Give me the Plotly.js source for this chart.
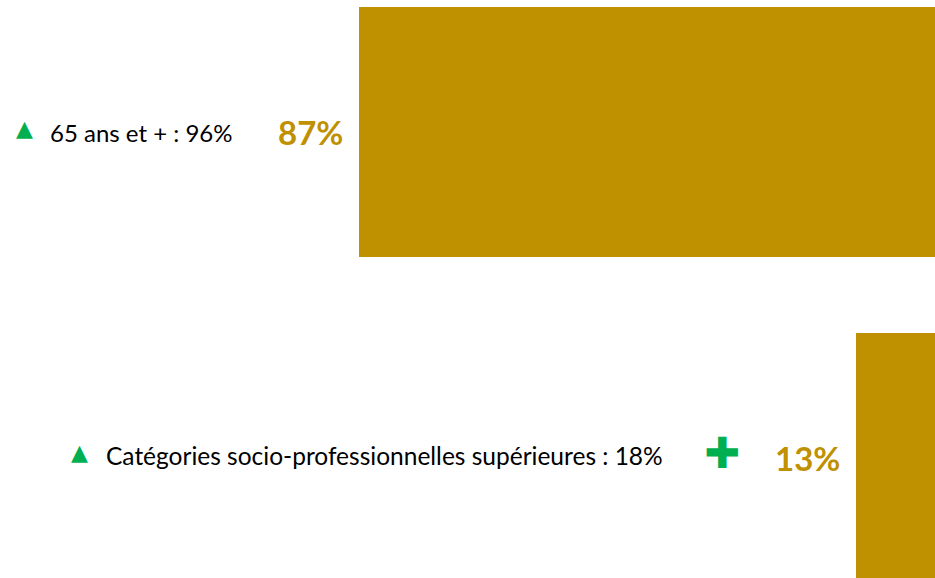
<!DOCTYPE html>
<html>
<head>
<meta charset="utf-8">
<script src="https://cdn.plot.ly/plotly-3.0.1.min.js"></script>
<style>html,body{margin:0;padding:0;background:#fff;}#chart{width:935px;height:578px;}</style>
</head>
<body>
<div id="chart"></div>
<script>
const categories = ["65 ans et +", "Catégories socio-professionnelles supérieures"];
const values = [87, 13];
const valueLabels = ["87%", "13%"];
const categoryLabels = ["65 ans et + : 96%", "Catégories socio-professionnelles supérieures : 18%"];
const trendMarks = ["▲", "▲"];
const extraMark = ["", "✚"];

const W = 935;
const GOLD = "#BF9000";
const GREEN = "#00B050";
const FONT = "Lato, 'Open Sans', sans-serif";

// label placement (pixels from left)
const labelX = [48, 104];
const markX = [14, 69];
const plusX = 722;

const annotations = [];
categories.forEach((c, i) => {
  annotations.push({
    x: values[i], xref: "x", y: c, yref: "y",
    text: valueLabels[i], showarrow: false,
    xanchor: "right", yanchor: "middle", xshift: -14,
    font: {family: FONT, size: 33, color: GOLD, weight: 700}
  });
  annotations.push({
    x: labelX[i] / W, xref: "paper", y: c, yref: "y",
    text: categoryLabels[i], showarrow: false,
    xanchor: "left", yanchor: "middle", yshift: i === 0 ? 0 : 3,
    font: {family: FONT, size: i === 0 ? 24 : 24.5, color: "#000000"}
  });
  annotations.push({
    x: markX[i] / W, xref: "paper", y: c, yref: "y",
    text: trendMarks[i], showarrow: false,
    xanchor: "left", yanchor: "middle", yshift: i === 0 ? 4 : 6,
    font: {family: "DejaVu Sans", size: 22, color: GREEN}
  });
  if (extraMark[i]) {
    annotations.push({
      x: plusX / W, xref: "paper", y: c, yref: "y",
      text: extraMark[i], showarrow: false,
      xanchor: "center", yanchor: "middle", yshift: 5,
      font: {family: "DejaVu Sans", size: 43, color: GREEN}
    });
  }
});

const data = [{
  type: "bar",
  orientation: "h",
  x: values,
  y: categories,
  marker: {color: GOLD},
  hoverinfo: "none",
  textposition: "none"
}];

const layout = {
  width: 935, height: 578,
  margin: {l: 0, r: 0, t: 0, b: 0, pad: 0},
  paper_bgcolor: "#ffffff", plot_bgcolor: "#ffffff",
  showlegend: false,
  bargap: 0.233,
  xaxis: {range: [140.45, 1.24], visible: false, fixedrange: true},
  yaxis: {type: "category", range: [1.368, -0.405], visible: false, fixedrange: true},
  annotations: annotations
};

Plotly.newPlot("chart", data, layout, {displayModeBar: false, staticPlot: true});
</script>
</body>
</html>
